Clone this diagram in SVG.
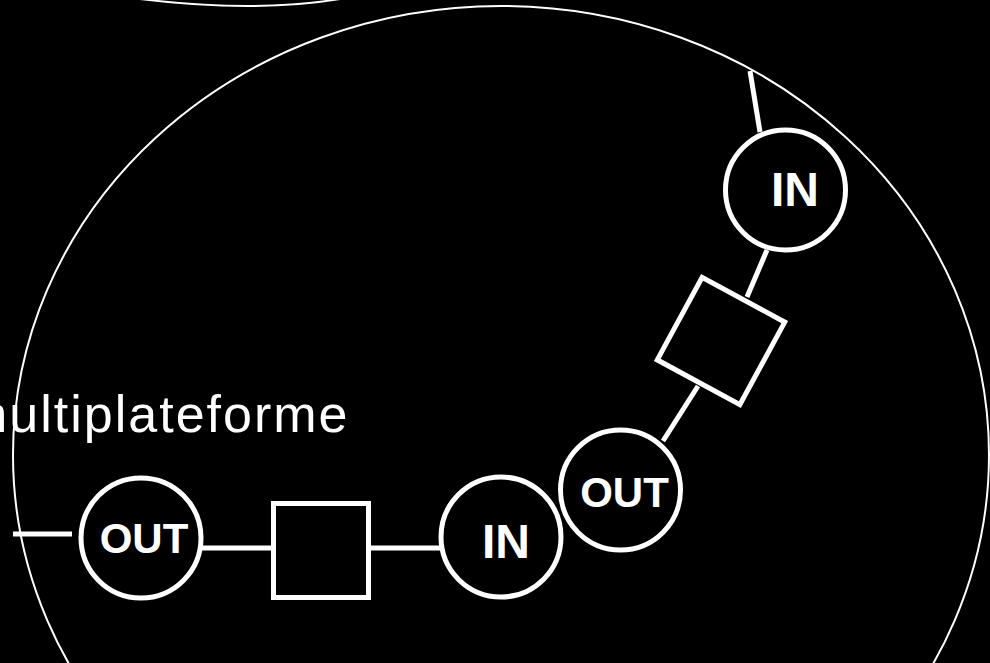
<svg xmlns="http://www.w3.org/2000/svg" width="990" height="663" viewBox="0 0 990 663">
<style>
.bg{fill:#000}
.outline{fill:none;stroke:#fff;stroke-width:2}
.node{fill:#000;stroke:#fff;stroke-width:5}
.conn{stroke:#fff;stroke-width:5;fill:none}
.lbl{fill:#fff;font-family:"Liberation Sans",Arial,sans-serif;font-weight:bold;text-anchor:middle}
.title{fill:#fff;font-family:"Liberation Sans",Arial,sans-serif;font-size:52px;letter-spacing:2px}
</style>
<rect class="bg" x="0" y="0" width="990" height="663"/>
<g id="frame">
<path class="outline" d="M 140 -1 Q 255 13 340 -1"/>
<ellipse class="outline" cx="501" cy="455" rx="488" ry="449"/>
</g>
<text class="title" x="-36" y="432">multiplateforme</text>
<g id="connectors">
<line class="conn" x1="13" y1="534" x2="72" y2="534"/>
<line class="conn" x1="200" y1="548" x2="273" y2="548"/>
<line class="conn" x1="369" y1="548" x2="441" y2="548"/>
<line class="conn" x1="663" y1="441" x2="698" y2="386"/>
<line class="conn" x1="747" y1="297" x2="767" y2="250"/>
<line class="conn" x1="760" y1="132" x2="750" y2="71"/>
</g>
<g id="out1">
<circle class="node" cx="141" cy="538" r="60"/>
<text class="lbl" x="144" y="553" font-size="42">OUT</text>
</g>
<g id="box1">
<rect class="node" x="273.5" y="503.5" width="95" height="94"/>
</g>
<g id="in1">
<circle class="node" cx="501" cy="537" r="60"/>
<text class="lbl" x="506" y="558" font-size="48">IN</text>
</g>
<g id="out2">
<circle class="node" cx="620.5" cy="490" r="60"/>
<text class="lbl" x="624.5" y="507" font-size="42">OUT</text>
</g>
<g id="box2">
<rect class="node" x="-47" y="-47" width="94" height="94" transform="translate(721 341) rotate(28.5)"/>
</g>
<g id="in2">
<circle class="node" cx="785.5" cy="190" r="60"/>
<text class="lbl" x="795" y="206" font-size="48">IN</text>
</g>
</svg>
